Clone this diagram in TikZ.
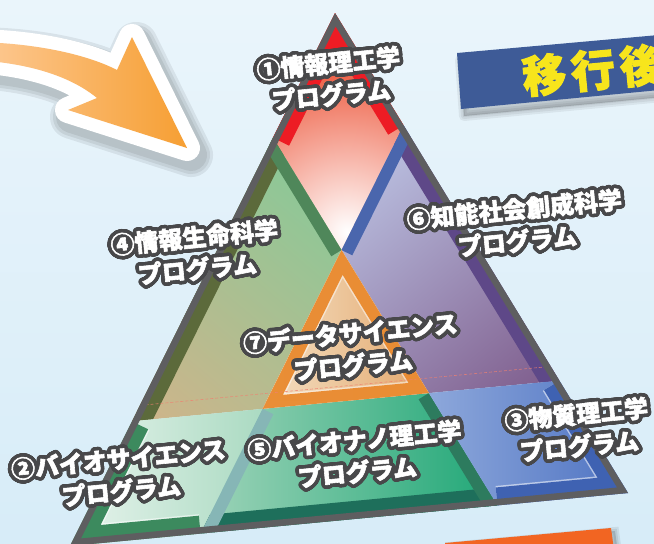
\documentclass[tikz,border=0pt]{standalone}
\usepackage{fontspec}
\usepackage{contour}
\usetikzlibrary{calc}
\newfontfamily\jp{Noto Sans CJK JP}[BoldFeatures={FakeBold=2.4}]
\contourlength{3.6pt}
\contournumber{40}
\definecolor{bgtop}{HTML}{EAF5FB}
\definecolor{bgbot}{HTML}{D7ECF8}
\definecolor{tgray}{HTML}{5E5E60}
\definecolor{outl}{HTML}{48484A}
\definecolor{redb}{HTML}{ED1C24}
\definecolor{r1out}{HTML}{EE6248}
\definecolor{olive}{HTML}{5C6A3B}
\definecolor{gband}{HTML}{4F875A}
\definecolor{purb}{HTML}{5E4888}
\definecolor{blueb}{HTML}{4A66AD}
\definecolor{g2band}{HTML}{3C8A5E}
\definecolor{tealb}{HTML}{1E6F5B}
\definecolor{ltteal}{HTML}{86B6B6}
\definecolor{g5band}{HTML}{2D7B5E}
\definecolor{b3band}{HTML}{3F62B2}
\definecolor{orb}{HTML}{E9892D}
\definecolor{bann}{HTML}{3E5B97}
\definecolor{yel}{HTML}{F7E51C}
\definecolor{arrL}{HTML}{FDCA96}
\definecolor{arrR}{HTML}{F69F33}
\definecolor{obar}{HTML}{F26522}
\definecolor{g4top}{HTML}{88C998}
\definecolor{g4bot}{HTML}{D0B48A}
\definecolor{p6top}{HTML}{B9BEDF}
\definecolor{p6bot}{HTML}{7D5A8A}
\definecolor{r2l}{HTML}{EBF5EF}
\definecolor{r2r}{HTML}{A5D8BE}
\definecolor{r5l}{HTML}{A3D5BB}
\definecolor{r5r}{HTML}{16A472}
\definecolor{r3l}{HTML}{90AADC}
\definecolor{r3r}{HTML}{4B70C1}
\definecolor{r7l}{HTML}{F5E2C8}
\definecolor{r7r}{HTML}{E2A466}
\definecolor{dashc}{HTML}{F08070}

\tikzset{
  lbl/.style={font=\jp\bfseries\fontsize{24}{32}\selectfont, text=white, align=center, rotate=5.5, inner sep=0pt},
  band/.style={line width=24pt, line cap=butt, line join=miter},
  oband/.style={line width=36pt, line cap=butt, line join=miter},
  hoband/.style={line width=39pt, line cap=butt, line join=miter, white, opacity=0.55},
}
\newcommand\ol[1]{\contour{outl}{#1}}
\def\arrowpath{(-25,42) .. controls (40,43) and (90,56) .. (117,70) -- (132,37) -- (187,148) -- (68,110) -- (97,98) .. controls (80,84) and (45,64) .. (-25,60) -- cycle}

\begin{document}
\begin{tikzpicture}[x=1pt,y=-1pt]
\useasboundingbox (0,0) rectangle (654,544);
\shade[top color=bgtop,bottom color=bgbot] (0,0) rectangle (654,544);

% arrow
\begin{scope}[shift={(4,7)}]
\foreach \w in {44,38,32} \draw[line width=\w pt, line join=round, black, opacity=0.07] \arrowpath;
\end{scope}
\draw[line width=26pt, white, line join=round] \arrowpath;
\shade[left color=arrL, right color=arrR] \arrowpath;

% banner
\begin{scope}[shift={(3,7)}]
\foreach \w in {10,6,2} \filldraw[black, opacity=0.06, line width=\w pt, line join=round] (457,53) -- (670,34) -- (670,89) -- (461,109) -- cycle;
\end{scope}
\fill[bann] (457,53) -- (670,34) -- (670,89) -- (461,109) -- cycle;
\node[font=\jp\bfseries\fontsize{44}{44}\selectfont, text=yel, rotate=5.5, inner sep=0pt] (ban) at (593,70) {移\hspace{5pt}行\hspace{5pt}後};

% bottom orange bar
\begin{scope}[shift={(4,3)}]
\foreach \w in {8,4} \filldraw[black, opacity=0.07, line width=\w pt] (445,550) -- (445,543) -- (611,528) -- (614,550) -- cycle;
\end{scope}
\fill[obar] (445,550) -- (445,543) -- (611,528) -- (614,550) -- cycle;

% triangle geometry
\coordinate (P) at (335,13);
\coordinate (L) at (70,546);
\coordinate (R) at (628,493);
\def\ta{0.234}\def\ua{0.766}\def\va{0.532}
\coordinate (pl) at (barycentric cs:P=\ua,L=\ta);
\coordinate (pr) at (barycentric cs:P=\ua,R=\ta);
\coordinate (lp) at (barycentric cs:P=\ta,L=\ua);
\coordinate (rp) at (barycentric cs:P=\ta,R=\ua);
\coordinate (lr) at (barycentric cs:L=\ua,R=\ta);
\coordinate (rl) at (barycentric cs:L=\ta,R=\ua);
\coordinate (c1) at (barycentric cs:P=\va,L=\ta,R=\ta);
\coordinate (c2) at (barycentric cs:P=\ta,L=\va,R=\ta);
\coordinate (c3) at (barycentric cs:P=\ta,L=\ta,R=\va);

% region 1
\begin{scope}
\clip (P) -- (pl) -- (c1) -- (pr) -- cycle;
\fill[r1out] (0,0) rectangle (654,544);
\shade[inner color=white, outer color=r1out] (347,232) circle (160);
\draw[oband, redb] (pl) -- (P) -- (pr);
\end{scope}
% region 4
\begin{scope}
\clip (pl) -- (lp) -- (c2) -- (c1) -- cycle;
\shade[top color=g4top, bottom color=g4bot, shading angle=-40] (60,120) rectangle (360,440);
\draw[oband, olive] (pl) -- (lp);
\draw[band, gband] (pl) -- (c1);
\end{scope}
% region 6
\begin{scope}
\clip (pr) -- (c1) -- (c3) -- (rp) -- cycle;
\shade[top color=p6top, bottom color=p6bot, shading angle=40] (330,120) rectangle (640,400);
\draw[oband, purb] (pr) -- (rp);
\draw[band, blueb] (pr) -- (c1);
\end{scope}
% region 2
\begin{scope}
\clip (L) -- (lp) -- (c2) -- (lr) -- cycle;
\shade[left color=r2l, right color=r2r] (60,400) rectangle (280,550);
\draw[hoband] (lp) -- (L) -- (lr);
\draw[oband, g2band] (lp) -- (L) -- (lr);
\end{scope}
% region 5
\begin{scope}
\clip (lr) -- (c2) -- (c3) -- (rl) -- cycle;
\shade[left color=r5l, right color=r5r] (190,380) rectangle (520,550);
\draw[oband, tealb] (lr) -- (rl);
\draw[band, ltteal] (lr) -- (c2);
\draw[band, g5band] (c3) -- (rl);
\end{scope}
% region 3
\begin{scope}
\clip (R) -- (rp) -- (c3) -- (rl) -- cycle;
\shade[left color=r3l, right color=r3r] (420,370) rectangle (640,520);
\draw[hoband] (rp) -- (R) -- (rl);
\draw[oband, b3band] (rp) -- (R) -- (rl);
\end{scope}
% region 7
\begin{scope}
\clip (c1) -- (c2) -- (c3) -- cycle;
\shade[left color=r7l, right color=r7r] (255,245) rectangle (440,400);
\draw[line width=27pt, white, opacity=0.5, line join=miter] (c1) -- (c2) -- (c3) -- cycle;
\draw[line width=24pt, orb, opacity=0.95, line join=miter] (c1) -- (c2) -- (c3) -- cycle;
\end{scope}
% faint dashed line of the top triangle
\begin{scope}
\clip (P) -- (L) -- (R) -- cycle;
\draw[dashc, opacity=0.8, line width=0.6pt, dash pattern=on 3pt off 2pt] ($(lp)+(-1.4,-15)$) -- ($(rp)+(-1.4,-15)$);
\end{scope}
% gray outline
\begin{scope}
\clip (P) -- (L) -- (R) -- cycle;
\draw[tgray, line width=13pt, line join=miter] (P) -- (L) -- (R) -- cycle;
\end{scope}

% labels
\node[lbl] (n1) at (330,81) {\ol{①情報理工学}\\\ol{プログラム}};
\node[lbl] (n4) at (196,255) {\ol{④情報生命科学}\\\ol{プログラム}};
\node[lbl] (n6) at (516,227) {\ol{⑥知能社会創成科学}\\\ol{プログラム}};
\node[lbl] (n7) at (352,351) {\ol{⑦データサイエンス}\\\ol{プログラム}};
\node[lbl] (n2) at (120,477) {\ol{②バイオサイエンス}\\\ol{プログラム}};
\node[lbl] (n5) at (356,458) {\ol{⑤バイオナノ理工学}\\\ol{プログラム}};
\node[lbl] (n3) at (578,432) {\ol{③物質理工学}\\\ol{プログラム}};
\end{tikzpicture}
\end{document}
